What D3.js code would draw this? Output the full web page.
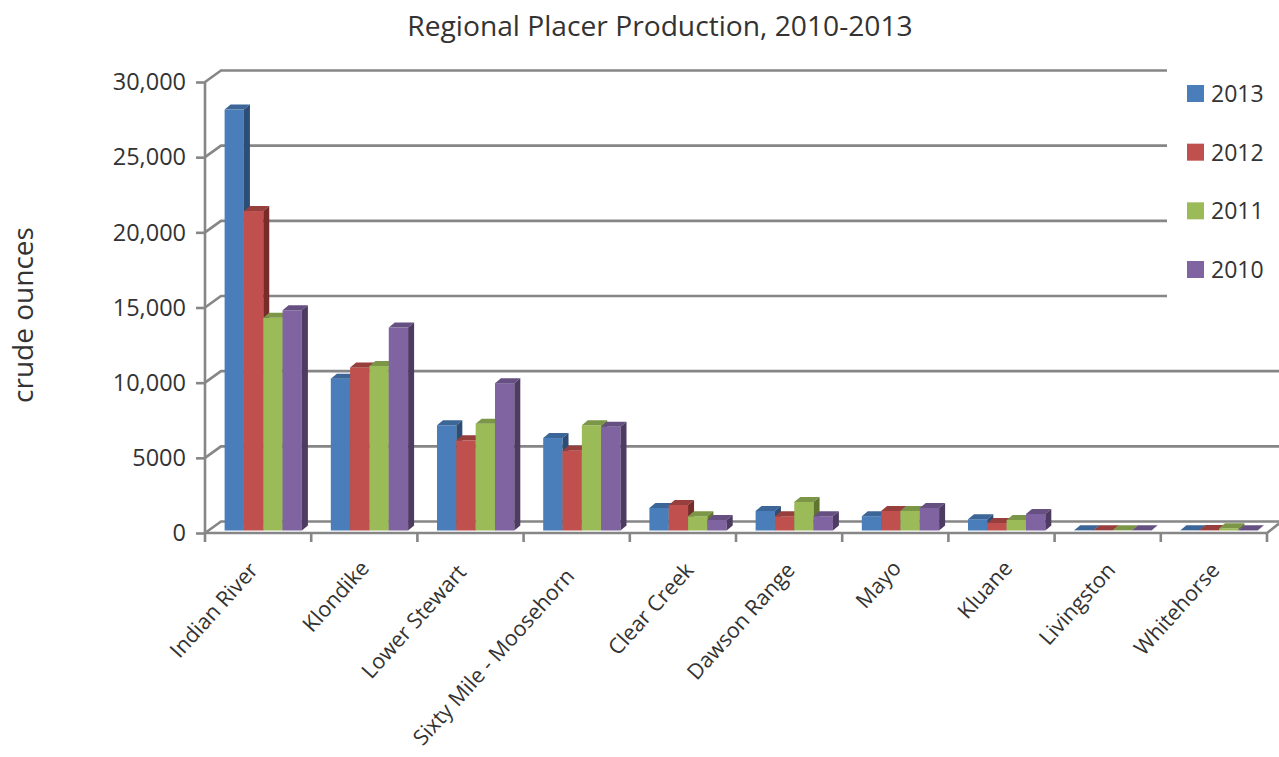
<!DOCTYPE html>
<html><head><meta charset="utf-8">
<script src="https://cdn.jsdelivr.net/npm/d3@7"></script>
<style>html,body{margin:0;padding:0;background:#fff}svg{display:block}text{font-family:"Open Sans",sans-serif;fill:#333}</style>
</head><body><div id="c"></div>
<script>
const titleText = "Regional Placer Production, 2010-2013";
const yAxisTitle = "crude ounces";
const categories = ["Indian River","Klondike","Lower Stewart","Sixty Mile - Moosehorn","Clear Creek","Dawson Range","Mayo","Kluane","Livingston","Whitehorse"];
const seriesNames = ["2013","2012","2011","2010"];
const v2013 = [28000,10100,7000,6150,1500,1300,950,750,10,10];
const v2012 = [21250,10850,6000,5300,1700,950,1300,500,10,30];
const v2011 = [14150,10950,7100,7000,950,1900,1300,700,10,150];
const v2010 = [14650,13500,9800,6900,700,950,1500,1100,10,20];
const seriesValues = [v2013,v2012,v2011,v2010];
const tickValues = [0,5000,10000,15000,20000,25000,30000];
const tickLabels = ["0","5000","10,000","15,000","20,000","25,000","30,000"];
const frontColors = ["#4a7ebb","#c0504d","#9bbb59","#8064a2"];
const topColors = ["#3b6697","#963f3c","#7c9647","#665082"];
const sideColors = ["#2c4d75","#772c2a","#5f7530","#4d3b62"];
const labelNudgeX = [1,6,-3,-1,12,7,7,12,9,7];
const labelNudgeY = [0,-2,2,6,0,0,-2,-2,0,0];

const W=1279,H=757, gridColor="#868686";
const svg=d3.select("#c").append("svg").attr("width",W).attr("height",H);
const x=d3.scaleBand(categories,[205,1267]);
const sub=d3.scaleBand(seriesNames,[0,77.3]);
const y=d3.scaleLinear([0,30000],[533,82]);
const wallDx=16, wallDy=-11.5;
const barBaseShift=-2.5, barOffset=19.6, depthX=6, depthY=5;

const g=svg.append("g").attr("fill","none").attr("stroke",gridColor).attr("stroke-width",2.6);
tickValues.forEach(t=>{
  g.append("path").attr("d",d3.line()([[205,y(t)],[205+wallDx,y(t)+wallDy],[1279,y(t)+wallDy]]));
});
g.append("path").attr("d",d3.line()([[205,y(0)],[1267,y(0)],[1279,y(0)+wallDy+2]]));
g.append("line").attr("x1",205).attr("x2",205).attr("y1",y(30000)).attr("y2",y(0));
const xTicks=[...categories.map(c=>x(c)),x(categories[9])+x.bandwidth()];
g.selectAll(".xt").data(xTicks).join("line").attr("x1",d=>d).attr("x2",d=>d).attr("y1",y(0)).attr("y2",y(0)+9);

const bars=svg.append("g");
categories.forEach((c,ci)=>{
  seriesNames.forEach((s,si)=>{
    const val=seriesValues[si][ci];
    const x0=x(c)+barOffset+sub(s), w=sub.bandwidth();
    const yt=y(val)+barBaseShift, yb=y(0)+barBaseShift;
    bars.append("rect").attr("x",x0).attr("y",yt).attr("width",w).attr("height",yb-yt).attr("fill",frontColors[si]);
    bars.append("path").attr("fill",topColors[si]).attr("d",d3.line()([[x0,yt],[x0+depthX,yt-depthY],[x0+w+depthX,yt-depthY],[x0+w,yt]])+"Z");
    bars.append("path").attr("fill",sideColors[si]).attr("d",d3.line()([[x0+w,yt],[x0+w+depthX,yt-depthY],[x0+w+depthX,yb-depthY],[x0+w,yb]])+"Z");
  });
});

const axis=d3.axisLeft(y).tickValues(tickValues).tickFormat((d,i)=>tickLabels[i]).tickSize(9).tickPadding(10);
const ya=svg.append("g").attr("transform","translate(205,0)").call(axis);
ya.select(".domain").remove();
ya.selectAll("line").attr("stroke",gridColor).attr("stroke-width",2.6);
ya.selectAll("text").style("font-size","23.5px").attr("dy","0.33em").style("font-family",'"Open Sans",sans-serif');

svg.append("g").selectAll("text").data(categories).join("text")
  .attr("text-anchor","end")
  .attr("transform",(c,i)=>`translate(${x(c)+x.bandwidth()/2+labelNudgeX[i]},${571+labelNudgeY[i]}) rotate(-48)`)
  .style("font-size","21.5px").text(c=>c);

svg.append("rect").attr("x",1167).attr("y",60).attr("width",112).attr("height",240).attr("fill","#fff");
const legendY=d3.scalePoint(seriesNames,[85,261]);
const lg=svg.append("g");
lg.selectAll("rect").data(seriesNames).join("rect").attr("x",1187).attr("y",d=>legendY(d)).attr("width",17).attr("height",17).attr("fill",(d,i)=>frontColors[i]);
lg.selectAll("text").data(seriesNames).join("text").attr("x",1211).attr("y",d=>legendY(d)+17).style("font-size","23px").text(d=>d);

svg.append("text").attr("x",660).attr("y",36).attr("text-anchor","middle").style("font-size","28.2px").text(titleText);
svg.append("text").attr("transform","translate(33,315) rotate(-90)").attr("text-anchor","middle").style("font-size","28px").text(yAxisTitle);
</script></body></html>
